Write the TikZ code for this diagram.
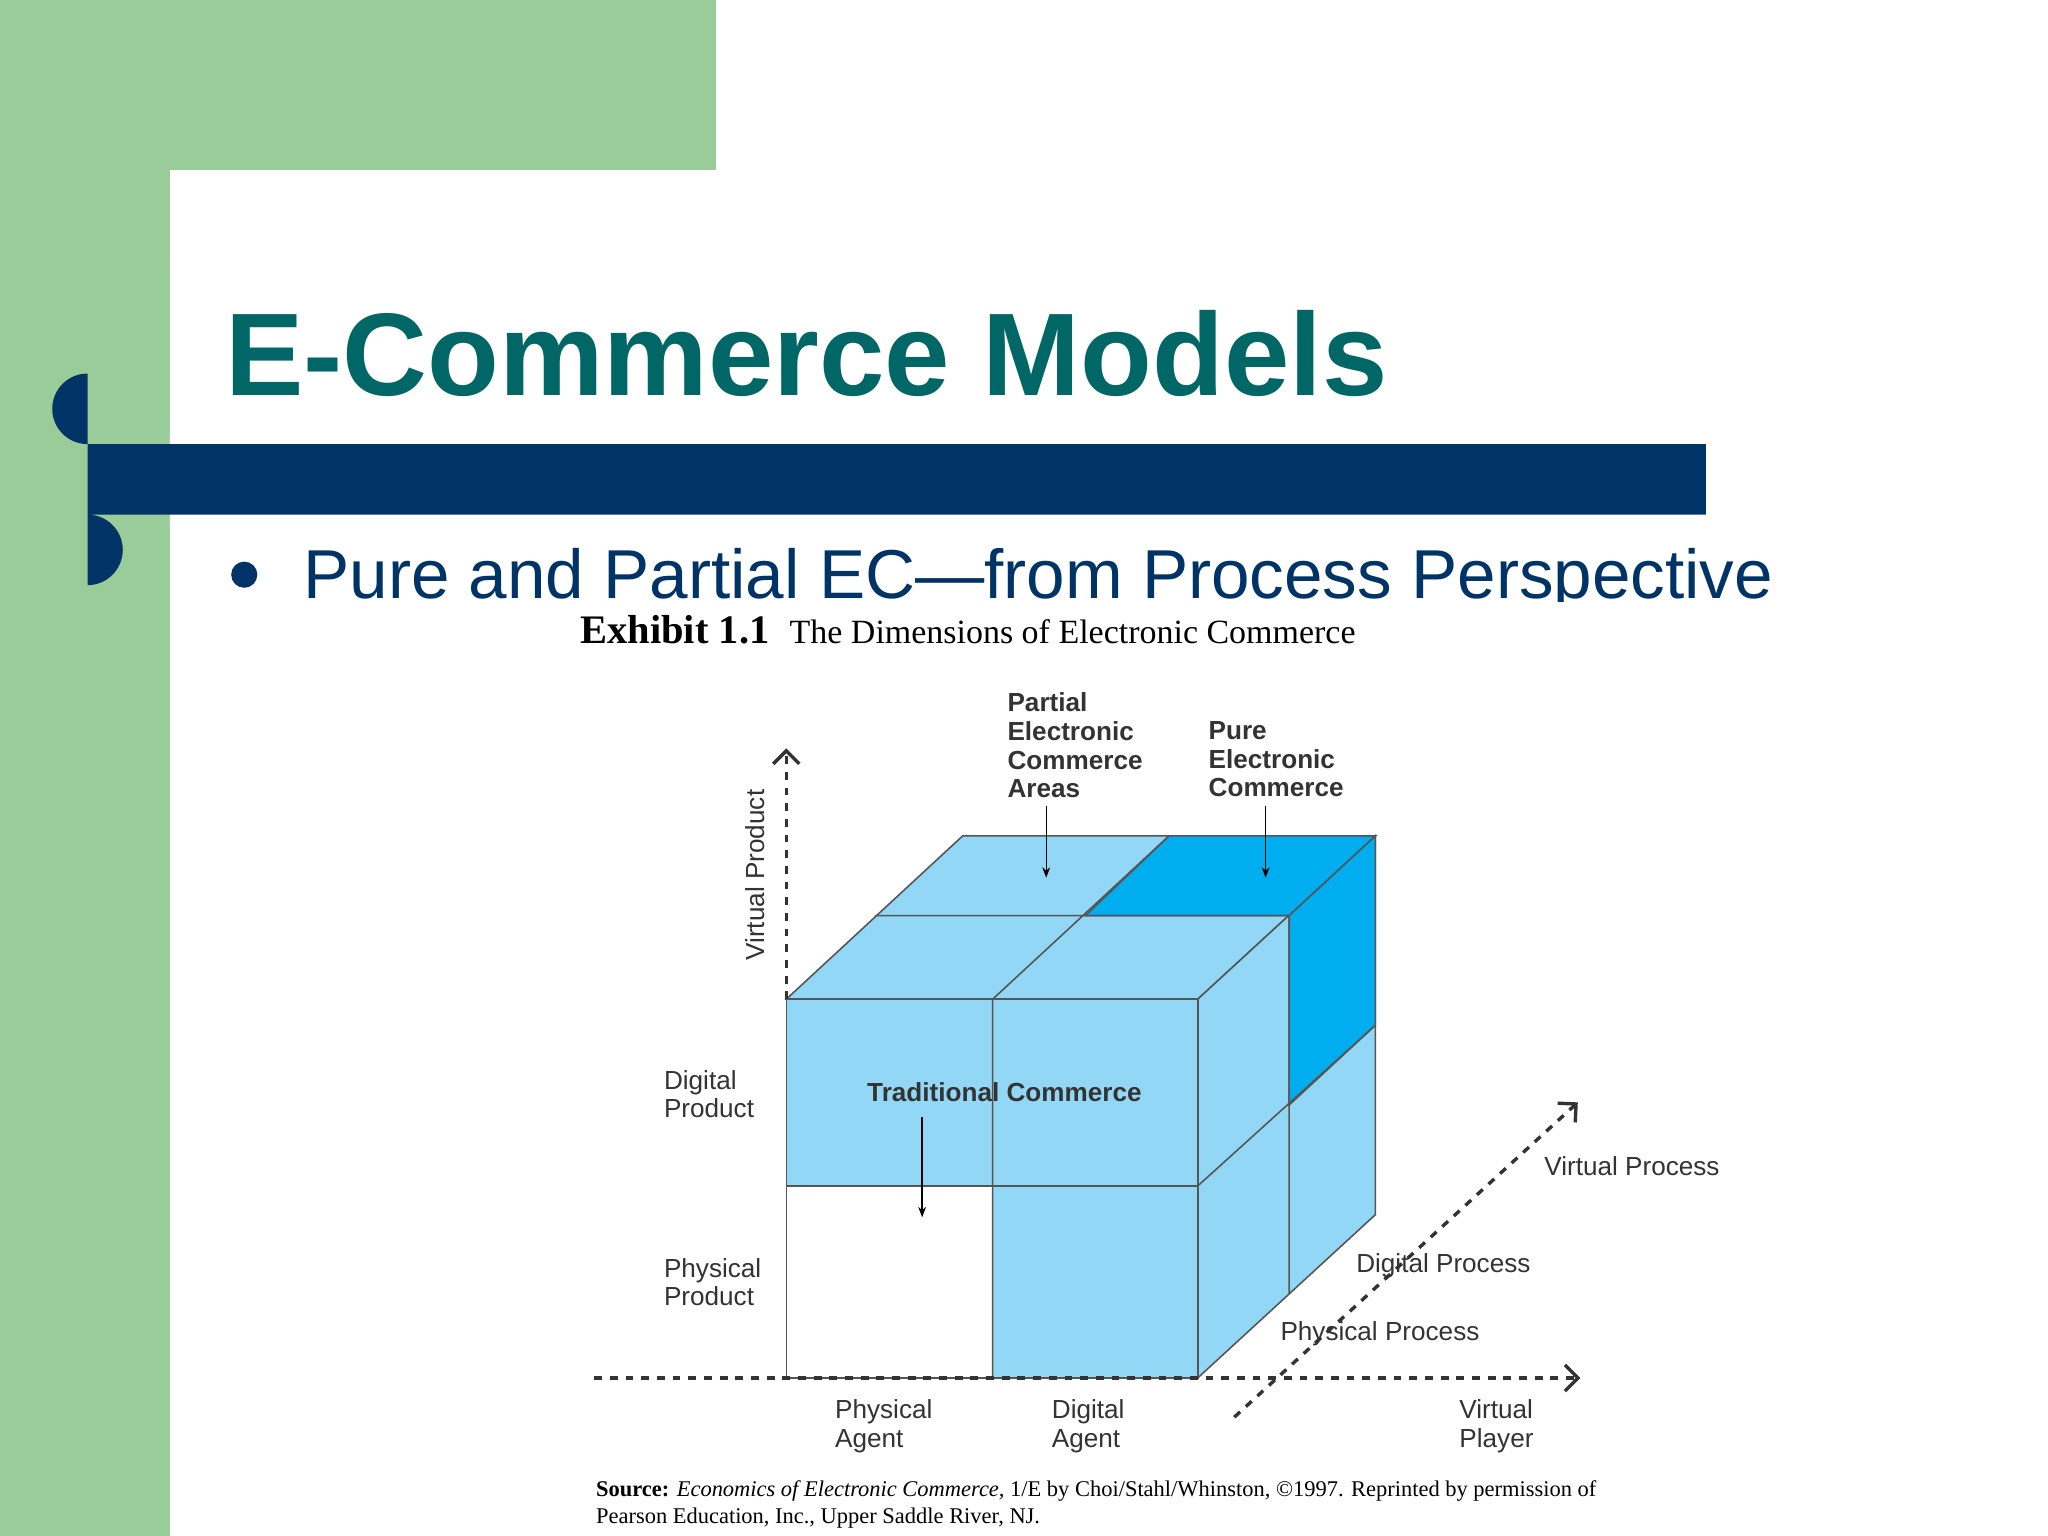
\documentclass[tikz,border=0pt]{standalone}
\usepackage{fontspec}
\setmainfont{Liberation Serif}
\setsansfont{Liberation Sans}
\usetikzlibrary{arrows.meta}
\definecolor{lgreen}{HTML}{99CC99}
\definecolor{teal2}{HTML}{006666}
\definecolor{navy}{HTML}{003366}
\definecolor{lblue}{HTML}{92D7F5}
\definecolor{dblue}{HTML}{00ADEF}
\definecolor{edge}{HTML}{555555}
\tikzset{face/.style={fill=lblue,draw=edge,line width=0.6pt},
 axis/.style={dashed,line width=1.3pt,draw=black!80,-{Straight Barb[length=5pt]}},
 ptr/.style={-{Stealth[length=4pt]},line width=0.5pt},
 lbl/.style={font=\sffamily\fontsize{10}{11}\selectfont,align=left,text=black!80,inner sep=0}}
\begin{document}
\begin{tikzpicture}[x=0.5pt,y=-0.5pt]
\useasboundingbox (0,0) rectangle (1568,1176);
\fill[white] (0,0) rectangle (1568,1176);
\fill[lgreen] (0,0) rectangle (548,130);
\fill[lgreen] (0,0) rectangle (130,1176);
\fill[white] (130,1176) -- (130,200) arc[start angle=180,end angle=90,radius=70] -- (548,130) -- (548,1176) -- cycle;
\node[anchor=base west,inner sep=0,text=teal2,font=\sffamily\bfseries\fontsize{45}{50}\selectfont] (title) at (172,303) {E-Commerce Models};
\fill[navy] (67,340) -- (1306,340) -- (1306,394) -- (67,394) arc[start angle=90,end angle=270,radius=-27];
\fill[navy] (67,340) arc[start angle=90,end angle=270,radius=27] -- cycle;
\fill[navy] (187,440) circle (10);
\node[anchor=base west,inner sep=0,text=navy,font=\sffamily\fontsize{26.5}{30}\selectfont] (bul) at (232,458) {Pure and Partial EC—from Process Perspective};
\fill[white] (440,461) rectangle (1306,1176);
\node[anchor=base west,inner sep=0,font=\fontsize{15.5}{17}\selectfont] (ex) at (444,493) {\textbf{Exhibit 1.1}\ \ {\fontsize{13}{15}\selectfont The Dimensions of Electronic Commerce}};
% cube
\filldraw[face] (602,765) -- (737,640) -- (1053,640) -- (917,765) -- cycle;
\filldraw[face] (917,765) -- (1053,640) -- (1053,930) -- (917,1055) -- cycle;
\filldraw[face] (602,765) rectangle (917,1055);
\filldraw[fill=dblue,draw=edge,line width=0.6pt] (831,701) -- (895,640) -- (1053,640) -- (987,701) -- cycle;
\filldraw[fill=dblue,draw=edge,line width=0.6pt] (987,701) -- (1053,640) -- (1053,785) -- (987,846) -- cycle;
\filldraw[fill=white,draw=edge,line width=0.6pt] (602,908) rectangle (760,1055);
\draw[edge,line width=0.6pt] (760,765) -- (895,640) (670,701) -- (987,701) (987,701) -- (987,990) (917,908) -- (1053,785) (760,765) -- (760,1055) (602,908) -- (917,908);
% axes
\coordinate (o) at (602,765); \coordinate (vt) at (602,573);
\coordinate (hl) at (455,1055); \coordinate (hr) at (1210,1055);
\coordinate (d1) at (945,1085); \coordinate (d2) at (1208,844);
\draw[axis] (o) -- (vt);
\draw[axis] (hl) -- (hr);
\draw[axis] (d1) -- (d2);
\coordinate (a1) at (801,617); \coordinate (a2) at (801,672);
\coordinate (b1) at (969,617); \coordinate (b2) at (969,672);
\coordinate (c1) at (706,855); \coordinate (c2) at (706,932);
\draw[ptr] (a1) -- (a2); \draw[ptr] (b1) -- (b2); \draw[ptr] (c1) -- (c2);
% labels
\node[lbl,font=\sffamily\bfseries\fontsize{10}{11}\selectfont,anchor=north west] (pec) at (771,530) {Partial\\Electronic\\Commerce\\Areas};
\node[lbl,font=\sffamily\bfseries\fontsize{10}{11}\selectfont,anchor=north west] (puec) at (925,552) {Pure\\Electronic\\Commerce};
\node[lbl,font=\sffamily\bfseries\fontsize{10}{11}\selectfont] (tc) at (769,836) {Traditional Commerce};
\node[lbl,rotate=90] (vp) at (578,670) {Virtual Product};
\node[lbl,anchor=north west] (dp) at (508,819) {Digital\\Product};
\node[lbl,anchor=north west] (pp) at (508,963) {Physical\\Product};
\node[lbl,anchor=north west] (pa) at (639,1071) {Physical\\Agent};
\node[lbl,anchor=north west] (da) at (805,1071) {Digital\\Agent};
\node[lbl,anchor=north west] (vpl) at (1117,1071) {Virtual\\Player};
\node[lbl,anchor=west] (vpr) at (1182,893) {Virtual Process};
\node[lbl,anchor=west] (dpr) at (1038,969) {Digital Process};
\node[lbl,anchor=west] (ppr) at (980,1021) {Physical Process};
\node[anchor=north west,inner sep=0,align=left,font=\fontsize{8.6}{10.5}\selectfont] (src) at (456,1133) {\textbf{Source:} \textit{Economics of Electronic Commerce,} 1/E by Choi/Stahl/Whinston, ©1997. Reprinted by permission of\\Pearson Education, Inc., Upper Saddle River, NJ.};
\end{tikzpicture}
\end{document}
